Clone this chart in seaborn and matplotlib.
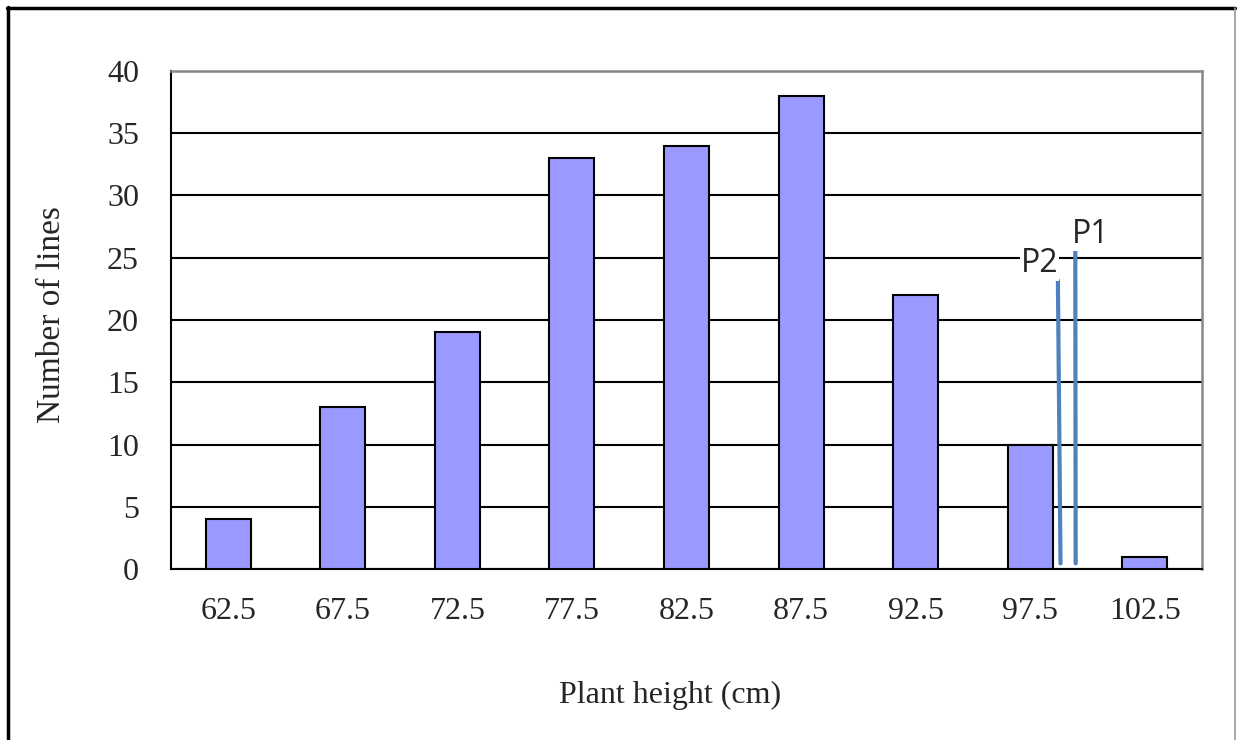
import seaborn as sns
import matplotlib.pyplot as plt
import pandas as pd
from matplotlib.lines import Line2D

# data
heights = ['62.5', '67.5', '72.5', '77.5', '82.5', '87.5', '92.5', '97.5', '102.5']
counts = [4, 13, 19, 33, 34, 38, 22, 10, 1]

# P1 / P2 marker lines (x in category units, y in counts)
p_names = ['P1', 'P2']
p_x_top = [7.394, 7.242]
p_x_bot = [7.397, 7.265]
p_y_top = [25.8, 23.2]
p_y_bot = [0.45, 0.45]
p_label_x = [7.53, 7.08]
p_label_y = [26.9, 24.5]

df = pd.DataFrame({'height': heights, 'count': counts})

sns.set_style('white')
plt.rcParams['font.family'] = ['Liberation Serif', 'DejaVu Serif']

fig = plt.figure(figsize=(12.37, 7.40), dpi=100)
ax = fig.add_axes([171/1237, 1-569/740, (1202-171)/1237, (569-71)/740])

sns.barplot(data=df, x='height', y='count', order=heights, color='#9999ff',
            saturation=1, width=0.393, edgecolor='black', linewidth=1.5, ax=ax, zorder=3)

ax.set_xlim(-0.5, 8.5)
ax.set_ylim(0, 40)
ax.set_yticks(range(0, 41, 5))
ax.yaxis.grid(True, color='black', linewidth=1.5, zorder=0)
ax.set_axisbelow(True)

for s in ['top', 'right']:
    ax.spines[s].set_color('#888888')
    ax.spines[s].set_linewidth(1.8)
for s in ['left', 'bottom']:
    ax.spines[s].set_color('black')
    ax.spines[s].set_linewidth(1.5)

# ticks between categories on x, outward
ax.set_xticks([i + 0.5 for i in range(-1, 9)], minor=True)
ax.tick_params(axis='x', which='major', length=0, labelsize=23, pad=20)
ax.tick_params(axis='x', which='minor', length=7, width=1.5, color='black', direction='out')
ax.tick_params(axis='y', length=7, width=1.5, color='black', direction='out', labelsize=23, pad=16)
ax.set_xlabel('')
ax.set_ylabel('')

fig.text(670/1237, 1-695/740, 'Plant height (cm)', ha='center', va='center', fontsize=23)
fig.text(52/1237, 1-315/740, 'Number of lines', ha='center', va='center', fontsize=24, rotation=90)

for name, xt, xb, yt, yb, lx, ly in zip(p_names, p_x_top, p_x_bot, p_y_top, p_y_bot, p_label_x, p_label_y):
    ax.plot([xt, xb], [yt, yb], color='#4f81bd', linewidth=3, zorder=5)
    ax.text(lx, ly, name, ha='center', va='center', fontsize=23, family=['Open Sans', 'DejaVu Sans'],
            zorder=6, bbox=dict(facecolor='white', edgecolor='none', pad=0.5))

# outer chart frame (bottom edge runs off the image)
fig.add_artist(Line2D([7/1237, 1235/1237], [1-8/740, 1-8/740], color='black', linewidth=2.5))
fig.add_artist(Line2D([8/1237, 8/1237], [0, 1-7/740], color='black', linewidth=2.5))
fig.add_artist(Line2D([1234.5/1237, 1234.5/1237], [0, 1-8/740], color='#999999', linewidth=1.2))

fig.savefig('out.png', dpi=100)
